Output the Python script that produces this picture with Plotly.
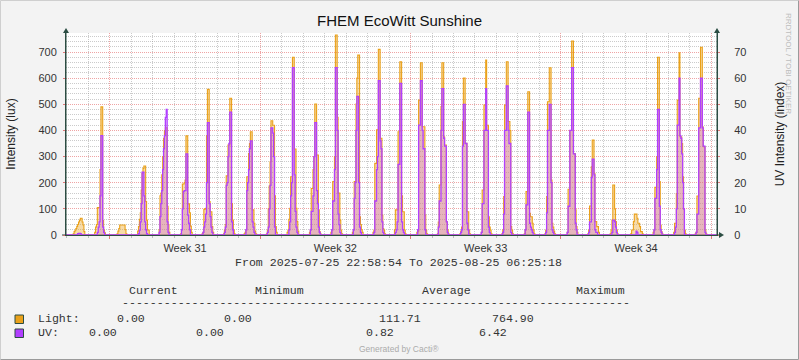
import pandas as pd
import plotly.graph_objects as go

# ---------------- data ----------------
T_START = "2025-07-25 22:58:54"
T_END = "2025-08-25 06:25:18"
FIRST_DAY = "2025-07-26"
DAY_HOURS = list(range(5, 21))   # hourly readings 05:00 .. 20:00, nights are 0

# Light intensity (lux) per day, hours 5..20
light_days = [
    [0, 0, 5, 13, 18, 25, 33, 40, 50, 57, 64, 64, 50, 38, 13, 0],
    [0, 0, 10, 30, 40, 105, 105, 105, 250, 490, 490, 55, 19, 8, 0, 0],
    [0, 0, 0, 5, 15, 25, 38, 38, 38, 38, 38, 38, 20, 5, 0, 0],
    [0, 0, 15, 32, 60, 85, 172, 236, 255, 264, 264, 128, 57, 19, 19, 0],
    [0, 0, 20, 150, 160, 230, 300, 370, 400, 410, 410, 110, 40, 10, 0, 0],
    [0, 0, 5, 20, 195, 195, 200, 210, 379, 379, 119, 119, 85, 34, 10, 0],
    [0, 0, 5, 10, 98, 100, 102, 380, 557, 557, 128, 89, 89, 32, 10, 0],
    [0, 0, 5, 19, 40, 226, 226, 344, 344, 523, 523, 120, 57, 19, 5, 0],
    [0, 5, 10, 20, 223, 223, 312, 350, 395, 395, 96, 96, 45, 15, 5, 0],
    [0, 0, 5, 19, 100, 187, 280, 437, 437, 420, 420, 150, 32, 10, 0, 0],
    [0, 10, 19, 60, 102, 223, 223, 680, 680, 329, 329, 102, 51, 15, 0, 0],
    [0, 0, 10, 19, 178, 178, 250, 300, 501, 501, 306, 306, 96, 13, 5, 0],
    [0, 0, 10, 19, 204, 204, 300, 765, 765, 450, 160, 160, 57, 19, 5, 0],
    [0, 0, 10, 19, 204, 204, 501, 600, 688, 688, 70, 40, 20, 10, 0, 0],
    [0, 10, 19, 274, 274, 402, 402, 710, 710, 370, 370, 76, 25, 19, 5, 0],
    [0, 20, 96, 96, 96, 395, 395, 663, 663, 150, 89, 89, 19, 5, 0, 0],
    [0, 0, 10, 15, 516, 516, 659, 659, 414, 414, 414, 76, 19, 5, 0, 0],
    [0, 5, 50, 191, 191, 491, 659, 659, 376, 344, 344, 51, 20, 5, 0, 0],
    [0, 0, 5, 15, 30, 434, 600, 600, 351, 351, 89, 89, 19, 5, 0, 0],
    [0, 0, 10, 172, 172, 497, 497, 669, 420, 420, 70, 30, 19, 5, 0, 0],
    [0, 5, 20, 147, 497, 497, 663, 663, 434, 434, 400, 32, 19, 5, 0, 0],
    [0, 0, 5, 19, 166, 166, 548, 548, 83, 70, 70, 45, 19, 5, 0, 0],
    [0, 5, 19, 147, 510, 510, 640, 640, 210, 45, 30, 15, 5, 0, 0, 0],
    [0, 0, 10, 175, 175, 400, 400, 742, 742, 312, 312, 96, 32, 10, 0, 0],
    [0, 5, 19, 111, 111, 261, 363, 363, 236, 51, 51, 32, 32, 10, 0, 0],
    [0, 0, 5, 19, 57, 191, 191, 100, 51, 20, 5, 0, 0, 0, 0, 0],
    [0, 5, 19, 19, 51, 80, 80, 80, 64, 45, 45, 32, 13, 13, 5, 0],
    [0, 0, 10, 19, 182, 182, 300, 680, 680, 204, 38, 13, 5, 0, 0, 0],
    [0, 10, 45, 45, 159, 516, 516, 697, 376, 376, 350, 223, 100, 19, 5, 0],
    [0, 5, 10, 149, 149, 523, 523, 718, 718, 414, 338, 338, 19, 5, 0, 0],
]

# UV as drawn on the right axis (index x10), hours 5..20
uv_days = [
    [0, 0, 0, 0, 0, 0, 0, 0.5, 0.6, 0.6, 0.5, 0, 0, 0, 0, 0],
    [0, 0, 0, 0, 0, 1, 3, 5, 15, 38, 38, 3, 1, 0, 0, 0],
    [0, 0, 0, 0, 0, 0, 0, 0, 0, 0, 0, 0, 0, 0, 0, 0],
    [0, 0, 0, 0.5, 1.9, 5, 12, 24, 24, 15, 5, 2, 0.5, 0, 0, 0],
    [0, 0, 1, 7, 12, 17, 25, 33, 38, 45, 48, 5, 1, 0, 0, 0],
    [0, 0, 0, 2, 10, 16.6, 17, 17, 31, 31, 7.6, 4.5, 2, 0, 0, 0],
    [0, 0, 0, 1, 3, 5, 8, 20, 43, 43, 12, 7, 3, 1, 0, 0],
    [0, 0, 0, 1, 3, 19, 20, 30, 35, 47, 47, 5, 2, 0, 0, 0],
    [0, 0, 0, 2, 17, 20, 25, 33, 36, 36, 5, 3, 1, 0, 0, 0],
    [0, 0, 0, 1, 3, 10, 19, 41, 41, 39, 30, 3, 0, 0, 0, 0],
    [0, 0, 0, 2, 5, 15, 20, 64, 64, 23, 9, 3, 1, 0, 0, 0],
    [0, 0, 0, 2, 9, 9, 15, 30, 43, 43, 17, 12, 3, 1, 0, 0],
    [0, 0, 0, 2, 13, 13, 25, 64, 64, 40, 8, 4, 1, 0, 0, 0],
    [0, 0, 0, 2, 14, 20, 40, 53, 53, 20, 3, 1, 0, 0, 0, 0],
    [0, 0, 1, 13, 13, 25, 30, 59, 59, 36, 33, 5, 1, 0, 0, 0],
    [0, 0, 1, 2, 5, 27, 27, 58, 58, 5, 2, 1, 0, 0, 0, 0],
    [0, 0, 0, 2, 42, 42, 59, 59, 40, 33, 33, 2, 0, 0, 0, 0],
    [0, 0, 3, 13, 13, 40, 56, 56, 37, 34, 34, 5, 1, 0, 0, 0],
    [0, 0, 0, 1, 2, 34, 50, 50, 35, 35, 4.5, 2, 0, 0, 0, 0],
    [0, 0, 1, 12, 12, 40, 40, 56, 40, 40, 3, 1, 0, 0, 0, 0],
    [0, 0, 1, 8, 40, 40, 57, 57, 40, 35, 35, 1, 0, 0, 0, 0],
    [0, 0, 0, 2, 11.5, 11.5, 47, 47, 4.5, 3, 2, 1, 0, 0, 0, 0],
    [0, 0, 1, 8.5, 40, 40, 50, 50, 20, 2, 1, 0, 0, 0, 0, 0],
    [0, 0, 1, 11, 11, 40, 40, 64, 64, 31, 31, 4.5, 2, 0, 0, 0],
    [0, 0, 1, 5, 5, 22, 29, 29, 23, 2, 1, 1, 0, 0, 0, 0],
    [0, 0, 0, 0, 1, 5.7, 5.7, 5, 3, 1, 0, 0, 0, 0, 0, 0],
    [0, 0, 0, 0, 0, 0, 0, 1.5, 1, 0, 0, 0, 0, 0, 0, 0],
    [0, 0, 0, 2, 14, 14, 25, 48, 48, 11, 2, 1, 0, 0, 0, 0],
    [0, 0, 1, 3, 10, 42, 42, 60, 38, 37, 31, 20, 10, 0, 0, 0],
    [0, 0, 1, 8, 8, 41, 41, 60, 60, 41, 34, 34, 1, 0, 0, 0],
]

TITLE = "FHEM EcoWitt Sunshine"
LEFT_TITLE = "Intensity (lux)"
RIGHT_TITLE = "UV Intensity (index)"
STAT_HEADERS = ["Current", "Minimum", "Average", "Maximum"]
LIGHT_STATS = ["0.00", "0.00", "111.71", "764.90"]
UV_STATS = ["0.00", "0.00", "0.82", "6.42"]

# ---------------- build series ----------------
hours = pd.date_range("2025-07-25 23:00", "2025-08-25 06:00", freq="h")
light = pd.Series(0.0, index=hours)
uv = pd.Series(0.0, index=hours)
for d, (lv, uvv) in enumerate(zip(light_days, uv_days)):
    day = pd.Timestamp(FIRST_DAY) + pd.Timedelta(days=d)
    for h, a, b in zip(DAY_HOURS, lv, uvv):
        t = day + pd.Timedelta(hours=h)
        light[t] = a
        uv[t] = b

# ---------------- geometry (pixels) ----------------
W, H = 799, 360
PL, PR, PT, PB = 66, 717, 33, 235
Y_MAX = 772.7


def px(X):
    return (X - PL) / (PR - PL)


def py(Y):
    return (PB - Y) / (PB - PT)


AXIS = "#2C4D43"
ORANGE = "#EAA11A"
PURPLE = "#B13FFF"
TXT = "#333333"
MONO = "Liberation Mono, Courier New, monospace"
SANS = "Liberation Sans, Arial, sans-serif"

fig = go.Figure()
fig.add_trace(go.Scatter(
    x=hours, y=light.values, mode="lines", line_shape="hv",
    line=dict(color=ORANGE, width=1.1), fill="tozeroy",
    fillcolor="rgba(234,161,26,0.38)", name="Light", showlegend=False,
))
fig.add_trace(go.Scatter(
    x=hours, y=uv.values, mode="lines", line_shape="hv", yaxis="y2",
    line=dict(color=PURPLE, width=1.3), fill="tozeroy",
    fillcolor="rgba(177,63,255,0.24)", name="UV", showlegend=False,
))

major_grid = "rgba(225,90,90,0.55)"
minor_grid = "rgba(140,140,140,0.45)"

fig.update_layout(
    width=W, height=H,
    margin=dict(l=PL, r=W - PR, t=PT, b=H - PB, pad=0, autoexpand=False),
    paper_bgcolor="#F3F3F3", plot_bgcolor="#FFFFFF",
    showlegend=False,
    xaxis=dict(
        type="date", range=[T_START, T_END], automargin=False,
        tick0="2025-07-28", dtick=7 * 86400000,
        tickformat="Week %V", ticklabelmode="period",
        showgrid=True, gridcolor=major_grid, griddash="1px,1px", gridwidth=1,
        minor=dict(dtick=86400000, tick0="2025-07-26", showgrid=True,
                   gridcolor=minor_grid, griddash="1px,1px",
                   ticks="outside", ticklen=2, tickcolor="#BBBBBB"),
        ticks="outside", ticklen=3, tickcolor="rgba(220,90,90,0.8)",
        showline=True, linecolor=AXIS, linewidth=1, zeroline=False,
        tickfont=dict(family=SANS, size=11, color=TXT),
        layer="below traces",
    ),
    yaxis=dict(
        range=[0, Y_MAX], tick0=0, dtick=100, automargin=False,
        showgrid=True, gridcolor=major_grid, griddash="1px,1px",
        minor=dict(dtick=20, showgrid=True, gridcolor=minor_grid, griddash="1px,1px"),
        ticks="outside", ticklen=2, tickcolor="rgba(220,90,90,0.8)",
        showline=True, linecolor=AXIS, zeroline=False,
        tickfont=dict(family=SANS, size=11, color=TXT),
        ticklabelstandoff=4,
        title=dict(text=LEFT_TITLE, font=dict(family=SANS, size=12, color="#222"), standoff=20),
        layer="below traces",
    ),
    yaxis2=dict(
        overlaying="y", side="right", range=[0, Y_MAX / 10], tick0=0, dtick=10,
        automargin=False,
        showgrid=False, zeroline=False, showline=True, linecolor=AXIS,
        ticks="outside", ticklen=2, tickcolor="rgba(220,90,90,0.8)",
        tickfont=dict(family=SANS, size=11, color=TXT),
        ticklabelstandoff=12,
        title=dict(text=RIGHT_TITLE, font=dict(family=SANS, size=12, color="#222"), standoff=30),
    ),
)

shapes = []
# axis extensions and arrows
shapes.append(dict(type="line", xref="paper", yref="paper", x0=px(PL), x1=px(PL), y0=py(PB), y1=py(30),
                   line=dict(color=AXIS, width=1)))
shapes.append(dict(type="line", xref="paper", yref="paper", x0=px(PR), x1=px(PR), y0=py(PB), y1=py(30),
                   line=dict(color=AXIS, width=1)))
shapes.append(dict(type="line", xref="paper", yref="paper", x0=px(62), x1=px(721), y0=py(PB), y1=py(PB),
                   line=dict(color=AXIS, width=1), layer="below"))
for ax in (PL, PR):
    shapes.append(dict(type="path", xref="paper", yref="paper",
                       path=f"M {px(ax-3)} {py(33)} L {px(ax)} {py(28)} L {px(ax+3)} {py(33)} Z",
                       fillcolor=AXIS, line=dict(color=AXIS, width=0)))
shapes.append(dict(type="path", xref="paper", yref="paper",
                   path=f"M {px(719)} {py(232)} L {px(724)} {py(235)} L {px(719)} {py(238)} Z",
                   fillcolor=AXIS, line=dict(color=AXIS, width=0)))
# legend boxes
shapes.append(dict(type="rect", xref="paper", yref="paper", x0=px(15), x1=px(23.5), y0=py(315), y1=py(323.5),
                   fillcolor=ORANGE, line=dict(color=AXIS, width=1)))
shapes.append(dict(type="rect", xref="paper", yref="paper", x0=px(15), x1=px(23.5), y0=py(329), y1=py(337.5),
                   fillcolor=PURPLE, line=dict(color=AXIS, width=1)))
# image border
shapes.append(dict(type="line", xref="paper", yref="paper", x0=px(0.5), x1=px(798.5), y0=py(0.5), y1=py(0.5),
                   line=dict(color="#CFCFCF", width=1)))
shapes.append(dict(type="line", xref="paper", yref="paper", x0=px(0.5), x1=px(0.5), y0=py(0.5), y1=py(359.5),
                   line=dict(color="#CFCFCF", width=1)))
shapes.append(dict(type="line", xref="paper", yref="paper", x0=px(798.5), x1=px(798.5), y0=py(0.5), y1=py(359.5),
                   line=dict(color="#9A9A9A", width=1)))
shapes.append(dict(type="line", xref="paper", yref="paper", x0=px(0.5), x1=px(798.5), y0=py(359.5), y1=py(359.5),
                   line=dict(color="#9A9A9A", width=1)))
fig.update_layout(shapes=shapes)

ann = []


def text(X, Y, s, size=11.6, family=MONO, color=TXT, anchor="left", angle=0):
    ann.append(dict(xref="paper", yref="paper", x=px(X), y=py(Y), text=s, showarrow=False,
                    xanchor=anchor, yanchor="middle", textangle=angle, borderpad=0,
                    font=dict(family=family, size=size, color=color)))


text(399.5, 21, TITLE, size=15, family=SANS, color="#111", anchor="center")
text(789, 63, "RRDTOOL / TOBI OETIKER", size=8, family=SANS, color="#BDBDBD", anchor="center", angle=90)
text(234, 262.5, f"From {T_START} To {T_END}")
for hx, s in zip([127.5, 253.5, 421, 575], STAT_HEADERS):
    text(hx, 290.5, s)
text(121, 302.5, "-" * 73)
text(36.5, 318.5, "Light:")
for vx, s in zip([116, 222.5, 377.5, 491], LIGHT_STATS):
    text(vx, 318.5, s)
text(36.5, 332.5, "UV:")
for vx, s in zip([88, 194.5, 365, 478], UV_STATS):
    text(vx, 332.5, s)
text(399, 349, "Generated by Cacti®", size=8.5, family=SANS, color="#ABABAB", anchor="center")
fig.update_layout(annotations=ann)

fig.write_html(
    "out.html",
    config={"displayModeBar": False},
    post_script="document.body.style.margin='0';document.body.style.padding='0';"
                "document.body.style.overflow='hidden';",
)
